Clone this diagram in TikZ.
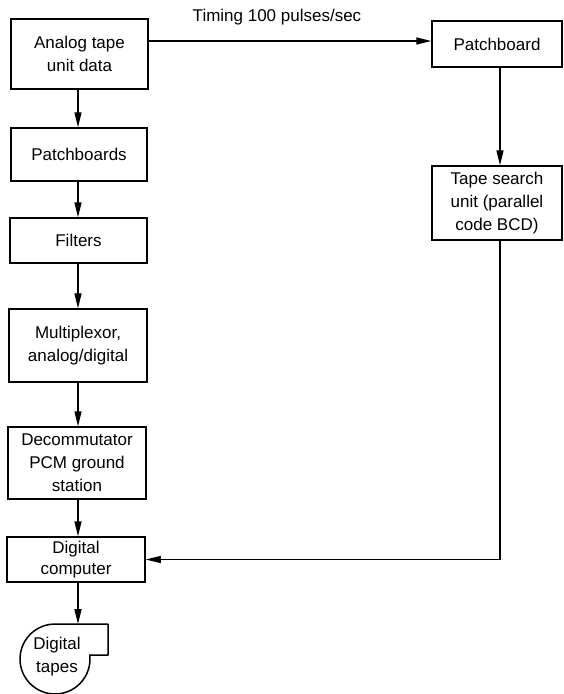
\documentclass[tikz,border=0pt]{standalone}
\usepackage{fontspec}
\setmainfont{Liberation Sans}
\usetikzlibrary{arrows.meta}
\begin{document}
\begin{tikzpicture}[x=1pt,y=-1pt,
  txt/.style={font=\fontsize{17}{23}\selectfont, align=center, inner sep=0pt},
  box/.style={txt, draw, line width=1.5pt},
  flow/.style={line width=1.3pt, -{Triangle[length=15pt,width=7pt]}}]
\useasboundingbox (0,0) rectangle (563,694);

% main processing column
\node[box, minimum width=137pt, minimum height=70pt] (A) at (79.5,54) {Analog tape\\unit data};
\node[box, minimum width=136pt, minimum height=53pt] (B) at (79,154.5) {Patchboards};
\node[box, minimum width=137pt, minimum height=45pt] (C) at (78.5,240.5) {Filters};
\node[box, minimum width=138pt, minimum height=73pt] (D) at (78,345.5) {Multiplexor,\\analog/digital};
\node[box, minimum width=138pt, minimum height=72pt] (E) at (77,463) {Decommutator\\PCM ground\\station};
\node[box, minimum width=138pt, minimum height=45pt, font=\fontsize{17}{21}\selectfont] (F) at (76,559.5) {Digital\\computer};

% timing branch
\node[box, minimum width=130pt, minimum height=46pt] (P) at (497,44) {Patchboard};
\node[box, minimum width=130pt, minimum height=74pt] (T) at (497,203) {Tape search\\unit (parallel\\code BCD)};

% magnetic tape output symbol
\draw[line width=1.5pt, line join=round] (55,624) -- (108,624) -- (108,655) -- (89.77,655)
  arc[start angle=6.56, end angle=-270, radius=35pt] -- cycle;
\node[txt] (G) at (57,657) {Digital\\tapes};

% helper coordinates for straight runs
\coordinate (col) at (78,0);
\coordinate (rc) at (500,0);
\coordinate (tl) at (0,41);
\coordinate (gtop) at (0,624);

\node[txt, anchor=base] (timing) at (277,21) {Timing 100 pulses/sec};

\draw[flow] (col |- A.south) -- (col |- B.north);
\draw[flow] (col |- B.south) -- (col |- C.north);
\draw[flow] (col |- C.south) -- (col |- D.north);
\draw[flow] (col |- D.south) -- (col |- E.north);
\draw[flow] (col |- E.south) -- (col |- F.north);
\draw[flow] (col |- F.south) -- (col |- gtop);

\draw[flow] (A.east |- tl) -- (P.west |- tl);
\draw[flow] (rc |- P.south) -- (rc |- T.north);
\draw[flow] (rc |- T.south) |- (F.east);
\end{tikzpicture}
\end{document}
